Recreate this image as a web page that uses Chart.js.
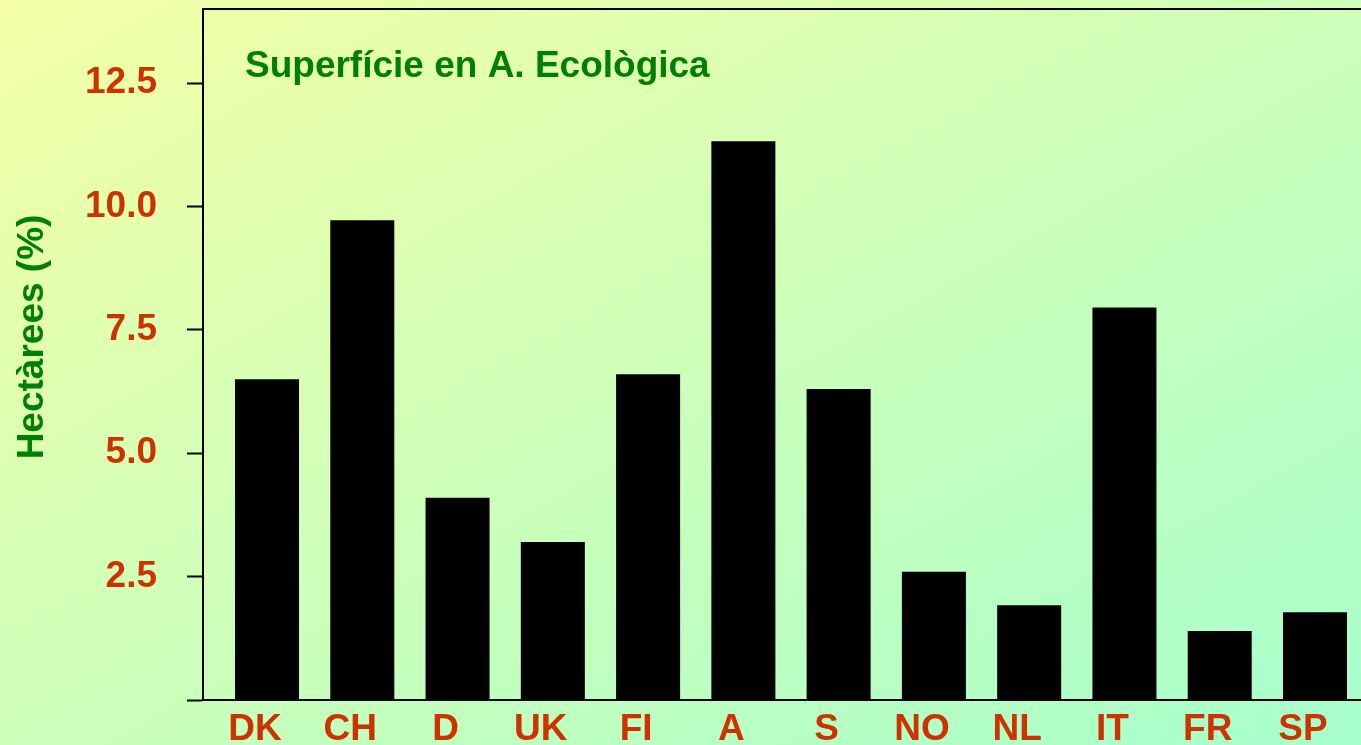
<!DOCTYPE html>
<html>
<head>
<meta charset="utf-8">
<script src="https://cdn.jsdelivr.net/npm/chart.js@4"></script>
<style>
  html, body { margin: 0; padding: 0; overflow: hidden; }
  body {
    width: 1361px;
    height: 745px;
    background: linear-gradient(to bottom right, #f4ffa6, #a6ffcc);
  }
  #wrap { position: relative; width: 1361px; height: 745px; }
</style>
</head>
<body>
<div id="wrap"><canvas id="chart"></canvas></div>
<script>
const countries = ["DK", "CH", "D", "UK", "FI", "A", "S", "NO", "NL", "IT", "FR", "SP"];
const surface = [6.5, 9.72, 4.1, 3.2, 6.6, 11.32, 6.3, 2.6, 1.92, 7.95, 1.4, 1.78];
const yTicks = [0, 2.5, 5.0, 7.5, 10.0, 12.5];

const chartTitle = "Superfície en A. Ecològica";
const yLabel = "Hectàrees (%)";

const red = "#cc3300";
const green = "#008000";
const font = "'Liberation Sans', Arial, sans-serif";

// top frame line, the title inside the plot and the y axis title
const decor = {
  id: "decor",
  afterDraw(chart) {
    const { ctx, chartArea } = chart;
    ctx.save();
    ctx.strokeStyle = "#000";
    ctx.lineWidth = 2;
    ctx.beginPath();
    ctx.moveTo(chartArea.left - 1, chartArea.top);
    ctx.lineTo(chartArea.right, chartArea.top);
    ctx.stroke();

    ctx.fillStyle = green;
    ctx.font = "bold 37px " + font;
    ctx.textBaseline = "alphabetic";
    ctx.textAlign = "left";
    ctx.fillText(chartTitle, chartArea.left + 42, 77);

    ctx.translate(33, 337);
    ctx.rotate(-Math.PI / 2);
    ctx.textAlign = "center";
    ctx.textBaseline = "middle";
    ctx.fillText(yLabel, 0, 0);
    ctx.restore();
  },
};

const ctx = document.getElementById("chart");

new Chart(ctx, {
  type: "bar",
  data: {
    datasets: [
      {
        data: countries.map((c, i) => ({ x: i, y: surface[i] })),
        backgroundColor: "#000",
        categoryPercentage: 1,
        barPercentage: 0.672,
      },
    ],
  },
  options: {
    responsive: true,
    maintainAspectRatio: false,
    animation: false,
    layout: { padding: { top: 9, right: 0, bottom: 0, left: 0 } },
    scales: {
      x: {
        type: "linear",
        offset: false,
        min: -0.672,
        max: 11.483,
        afterFit: (scale) => {
          scale.height = 45;
          scale.paddingLeft = 0;
          scale.paddingRight = 0;
        },
        afterBuildTicks: (scale) => {
          scale.ticks = countries.map((c, i) => ({ value: i }));
        },
        grid: { display: false },
        border: { display: true, color: "#000", width: 2 },
        ticks: {
          color: red,
          font: { family: font, size: 37, weight: "bold" },
          padding: 0,
          labelOffset: -12,
          maxRotation: 0,
          autoSkip: false,
          callback: (v) => countries[v],
        },
      },
      y: {
        min: 0,
        max: 14,
        afterFit: (scale) => {
          scale.width = 203;
          scale.paddingTop = 0;
          scale.paddingBottom = 0;
        },
        afterBuildTicks: (scale) => {
          scale.ticks = yTicks.map((v) => ({ value: v }));
        },
        grid: {
          drawOnChartArea: false,
          drawTicks: true,
          tickLength: 16,
          tickWidth: 2,
          color: "#000",
        },
        border: { display: true, color: "#000", width: 2 },
        ticks: {
          color: red,
          font: { family: font, size: 37, weight: "bold" },
          padding: 30,
          callback: (v) => (v === 0 ? "" : v.toFixed(1)),
        },
      },
    },
    plugins: {
      legend: { display: false },
      tooltip: { enabled: false },
    },
  },
  plugins: [decor],
});
</script>
</body>
</html>
